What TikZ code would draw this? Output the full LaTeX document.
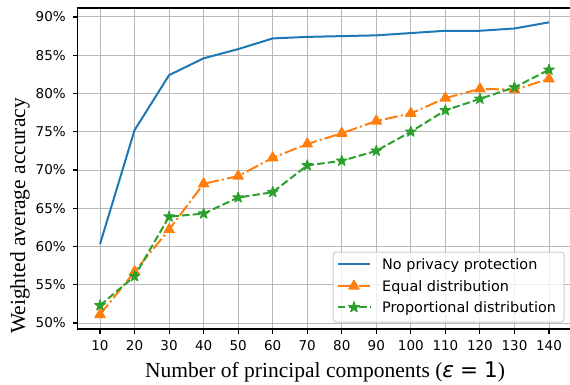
\documentclass[tikz,border=0pt]{standalone}
\usepackage{fontspec}
\setmainfont{Liberation Serif}
\newfontfamily\ticksans{DejaVu Sans}
\usetikzlibrary{plotmarks}

\definecolor{tabblue}{HTML}{1F77B4}
\definecolor{taborange}{HTML}{FF7F0E}
\definecolor{tabgreen}{HTML}{2CA02C}
\definecolor{gridgray}{HTML}{B8B8B8}
\definecolor{legendedge}{HTML}{CCCCCC}

% filled five-pointed star for the proportional curve
\pgfdeclareplotmark{fivestar}{%
  \pgfpathmoveto{\pgfpointpolar{90}{\pgfplotmarksize}}%
  \pgfpathlineto{\pgfpointpolar{126}{0.382\pgfplotmarksize}}%
  \pgfpathlineto{\pgfpointpolar{162}{\pgfplotmarksize}}%
  \pgfpathlineto{\pgfpointpolar{198}{0.382\pgfplotmarksize}}%
  \pgfpathlineto{\pgfpointpolar{234}{\pgfplotmarksize}}%
  \pgfpathlineto{\pgfpointpolar{270}{0.382\pgfplotmarksize}}%
  \pgfpathlineto{\pgfpointpolar{306}{\pgfplotmarksize}}%
  \pgfpathlineto{\pgfpointpolar{342}{0.382\pgfplotmarksize}}%
  \pgfpathlineto{\pgfpointpolar{18}{\pgfplotmarksize}}%
  \pgfpathlineto{\pgfpointpolar{54}{0.382\pgfplotmarksize}}%
  \pgfpathclose
  \pgfusepathqfillstroke}

\tikzset{
  gridline/.style={gridgray, line width=1bp},
  spine/.style={black, line width=1.1bp},
  ticklabel/.style={inner sep=0pt, font={\ticksans\fontsize{13.5bp}{16bp}\selectfont}},
  legendtext/.style={inner sep=0pt, anchor=base west, font={\ticksans\fontsize{14.4bp}{17bp}\selectfont}},
  axislabel/.style={inner sep=0pt, font={\fontsize{21.5bp}{26bp}\selectfont}},
  nopriv/.style={tabblue, line width=2bp, line join=round},
  equaldist/.style={taborange, line width=2bp, line join=round,
    dash pattern=on 12.8bp off 3.2bp on 2bp off 3.2bp,
    mark=triangle*, mark size=6bp, mark options={solid, fill=taborange, line width=1bp}},
  propdist/.style={tabgreen, line width=2bp, line join=round,
    dash pattern=on 7.4bp off 3.2bp,
    mark=fivestar, mark size=5.6bp, mark options={solid, fill=tabgreen, line width=1bp}},
}

\begin{document}
\begin{tikzpicture}[x=1bp, y=1bp]
\useasboundingbox (0,0) rectangle (570,384);

% data area: x = number of components, y = accuracy in percent
\begin{scope}[x=3.4538bp, y=7.65bp, xshift=65.46bp, yshift=-321.5bp]
  \foreach \x in {10,20,...,140}
    \draw[gridline] (\x,49.22) -- (\x,91.18);
  \foreach \y in {50,55,...,90}
    \draw[gridline] (3.5,\y) -- (146.5,\y);

  % axes box and ticks
  \draw[spine] (3.5,49.22) rectangle (146.5,91.18);
  \foreach \x in {10,20,...,140} {
    \draw[spine] (\x,49.22) -- ++(0,-4.7bp);
    \node[ticklabel, anchor=base] at ([yshift=-22bp]\x,49.22) {\x};
  }
  \foreach \y in {50,55,...,90} {
    \draw[spine] (3.5,\y) -- ++(-4.7bp,0);
    \node[ticklabel, anchor=east] at ([xshift=-11.6bp]3.5,\y) {\y\%};
  }

  % curves
  \draw[nopriv] plot coordinates {(10,60.3) (20,75.2) (30,82.4) (40,84.6) (50,85.8)
    (60,87.2) (70,87.4) (80,87.5) (90,87.6) (100,87.9) (110,88.2) (120,88.2)
    (130,88.5) (140,89.3)};
  \draw[equaldist] plot coordinates {(10,51.1) (20,56.7) (30,62.2) (40,68.2) (50,69.2)
    (60,71.6) (70,73.4) (80,74.8) (90,76.4) (100,77.4) (110,79.4) (120,80.6)
    (130,80.5) (140,81.9)};
  \draw[propdist] plot coordinates {(10,52.3) (20,56.1) (30,63.9) (40,64.3) (50,66.4)
    (60,67.1) (70,70.6) (80,71.2) (90,72.5) (100,75.0) (110,77.8) (120,79.3)
    (130,80.8) (140,83.1)};
\end{scope}

% legend
\draw[legendedge, line width=1bp, fill=white, fill opacity=0.8, rounded corners=3bp]
  (333,62) rectangle (564,132);
\draw[nopriv] (338,120) -- (370,120);
\draw[equaldist, mark indices={2}] plot coordinates {(338,98) (354,98) (370,98)};
\draw[propdist, mark indices={2}] plot coordinates {(338,76.7) (354,76.7) (370,76.7)};
\node[legendtext] at (382,114.7) {No privacy protection};
\node[legendtext] at (382,93) {Equal distribution};
\node[legendtext] at (382,71.3) {Proportional distribution};

% axis titles
\node[axislabel, rotate=90, anchor=base] at (25,168) {Weighted average accuracy};
\node[axislabel, anchor=base] at (325,7)
  {Number of principal components ({\ticksans\itshape ε}\hspace{0.28em}{\ticksans =}\hspace{0.28em}{\ticksans 1})};
\end{tikzpicture}
\end{document}
